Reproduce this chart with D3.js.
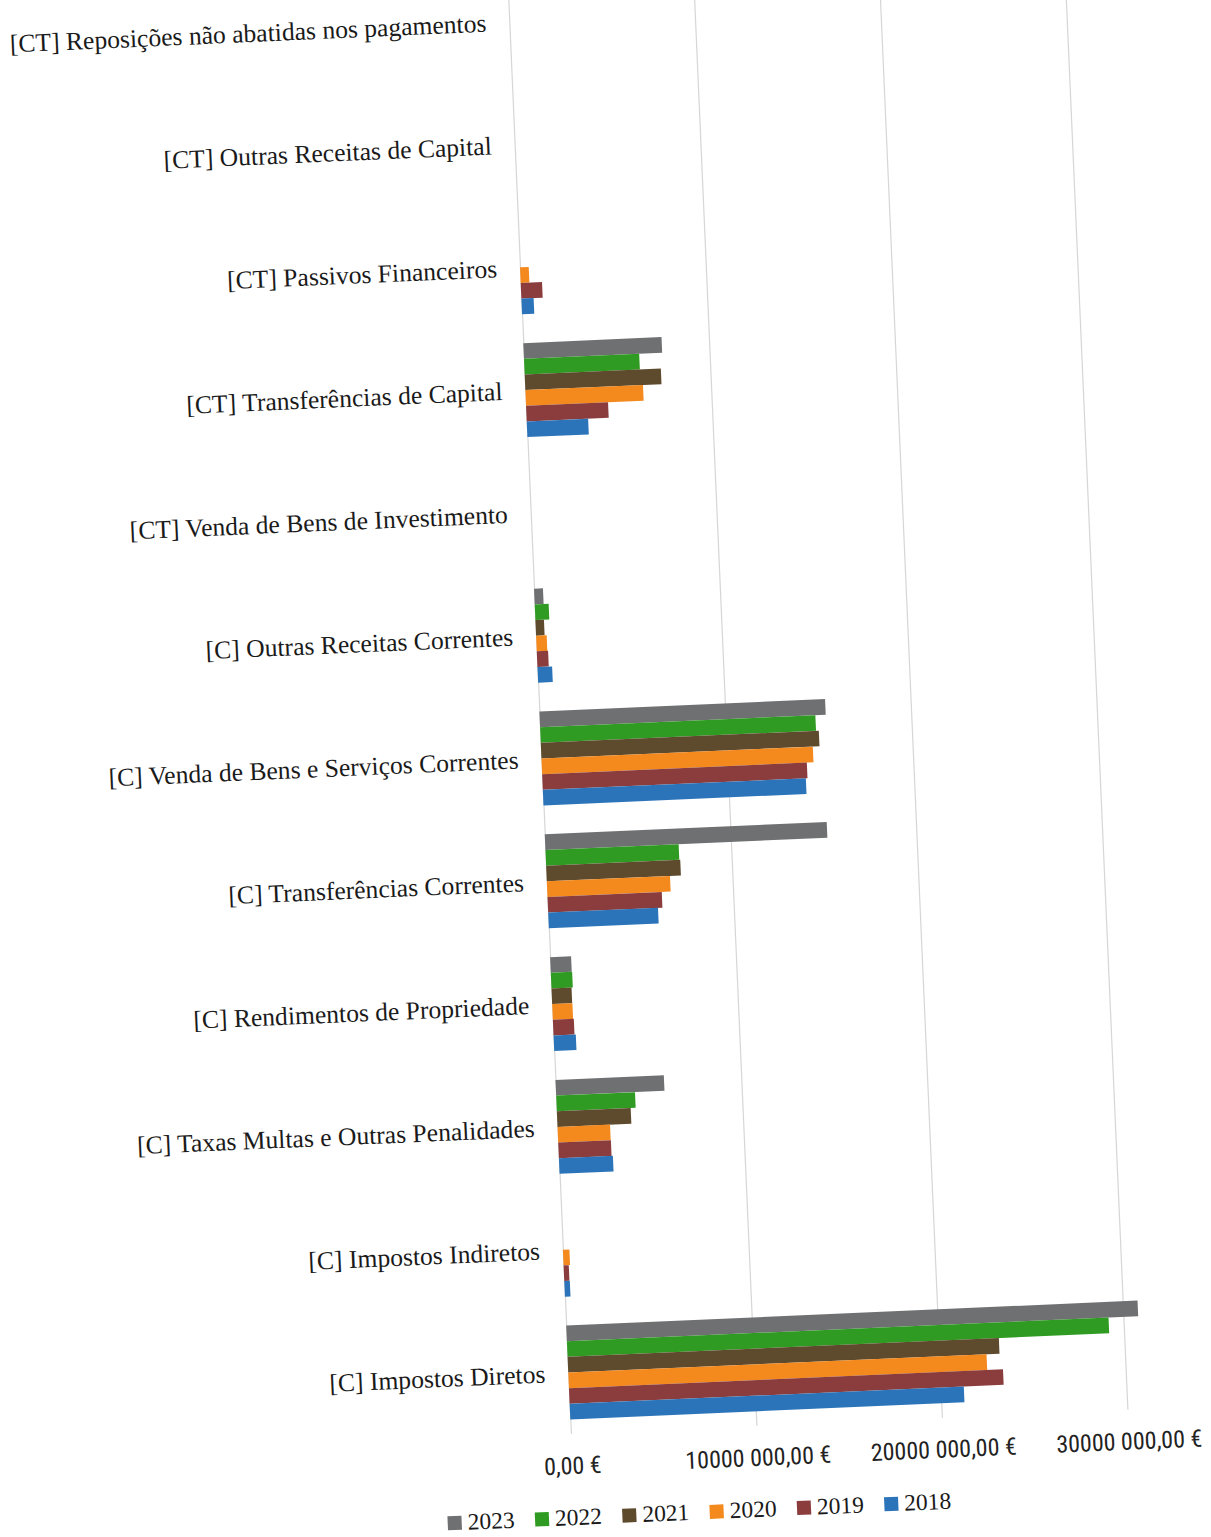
<!DOCTYPE html>
<html><head><meta charset="utf-8">
<script src="https://cdn.jsdelivr.net/npm/d3@7"></script>
<style>
html,body{margin:0;padding:0;background:#fff;}
svg{display:block;}
</style></head>
<body>
<svg id="chart" width="1211" height="1537"></svg>
<script>
const categories = [
  "[CT] Reposições não abatidas nos pagamentos",
  "[CT] Outras Receitas de Capital",
  "[CT] Passivos Financeiros",
  "[CT] Transferências de Capital",
  "[CT] Venda de Bens de Investimento",
  "[C] Outras Receitas Correntes",
  "[C] Venda de Bens e Serviços Correntes",
  "[C] Transferências Correntes",
  "[C] Rendimentos de Propriedade",
  "[C] Taxas Multas e Outras Penalidades",
  "[C] Impostos Indiretos",
  "[C] Impostos Diretos"
];
const years = ["2023","2022","2021","2020","2019","2018"];
const v2023 = [0,0,0,7450000,0,480000,15400000,15200000,1130000,5840000,0,30800000];
const v2022 = [0,0,0,6210000,0,750000,14840000,7180000,1150000,4250000,0,29200000];
const v2021 = [0,0,0,7340000,0,460000,14990000,7230000,1080000,3980000,0,23250000];
const v2020 = [0,0,470000,6340000,0,570000,14630000,6640000,1090000,2830000,350000,22550000];
const v2019 = [0,0,1150000,4420000,0,610000,14270000,6160000,1130000,2840000,280000,23400000];
const v2018 = [0,0,660000,3310000,0,790000,14180000,5920000,1200000,2910000,300000,21250000];
const seriesValues = {"2023":v2023,"2022":v2022,"2021":v2021,"2020":v2020,"2019":v2019,"2018":v2018};
const tickValues = [0,10000000,20000000,30000000];
const tickLabels = ["0,00 €","10000 000,00 €","20000 000,00 €","30000 000,00 €"];
const colors = {"2023":"#6e7072","2022":"#2f9b23","2021":"#5e4a2d","2020":"#f4891d","2019":"#8b3d3e","2018":"#2c74b9"};

const svg = d3.select("#chart");
const root = svg.append("g").attr("transform","rotate(-2.5,600,770)");

const x = d3.scaleLinear().domain([0,30000000]).range([542,1099]);
const y = d3.scaleBand().domain(categories).range([-43,1432]).paddingInner(0.235).paddingOuter(0.1175);
const yInner = d3.scaleBand().domain(years).range([0,y.bandwidth()]);

// gridlines
const grid = root.append("g").attr("transform","translate(0,1432)")
  .call(d3.axisBottom(x).tickValues(tickValues).tickSize(-1475).tickFormat(""));
grid.select(".domain").remove();
grid.selectAll(".tick line").attr("stroke","#d6d6d6").attr("stroke-width",1.2);

// bars
const groups = root.append("g").selectAll("g").data(categories).join("g")
  .attr("transform",d=>`translate(0,${y(d)})`);
groups.selectAll("rect").data((c,i)=>years.map(yr=>({yr,v:seriesValues[yr][i]})))
  .join("rect")
  .attr("x",x(0))
  .attr("y",d=>yInner(d.yr))
  .attr("width",d=>x(d.v)-x(0))
  .attr("height",yInner.bandwidth())
  .attr("fill",d=>colors[d.yr]);

// category labels
root.append("g").selectAll("text").data(categories).join("text")
  .attr("x",519)
  .attr("y",d=>y(d)+y.bandwidth()/2)
  .attr("dy","0.35em")
  .attr("text-anchor","end")
  .attr("font-family","'Liberation Serif','Times New Roman',serif")
  .attr("font-size",25.6)
  .attr("fill","#1a1a1a")
  .text(d=>d);

// x axis labels
const xa = root.append("g").attr("transform","translate(0,1452)")
  .call(d3.axisBottom(x).tickValues(tickValues).tickSize(0).tickFormat((d,i)=>tickLabels[i]));
xa.select(".domain").remove();
xa.selectAll("text")
  .attr("font-family","'Liberation Sans Narrow','Arial Narrow','Roboto Condensed',sans-serif")
  .attr("font-size",24).attr("fill","#222");

// legend
const legend = root.append("g").attr("transform","translate(415,1515)");
const li = legend.selectAll("g").data(years).join("g")
  .attr("transform",(d,i)=>`translate(${i*87.4},0)`);
li.append("rect").attr("x",0).attr("y",-6).attr("width",14).attr("height",14).attr("fill",d=>colors[d]);
li.append("text").attr("x",20).attr("y",0).attr("dy","0.35em")
  .attr("font-family","'Liberation Serif','Times New Roman',serif")
  .attr("font-size",23.5).attr("fill","#1a1a1a").text(d=>d);
</script>
</body></html>
